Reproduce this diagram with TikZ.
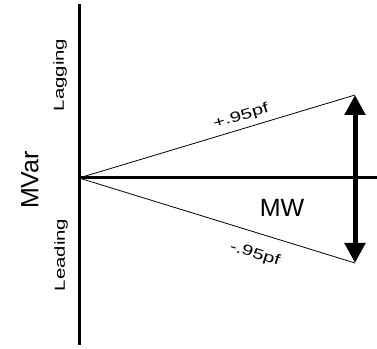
\documentclass[tikz,border=0pt]{standalone}
\usepackage{fontspec}
\setmainfont{Liberation Sans}
\newfontfamily\widefont[FakeStretch=1.4]{Liberation Sans}
\usetikzlibrary{arrows.meta}
\definecolor{PFInk}{HTML}{000000}
\tikzset{
  axisline/.style={PFInk,line width=3pt},
  pfline/.style={PFInk,line width=0.8pt},
  biglabel/.style={font=\fontsize{25}{25}\selectfont,inner sep=0pt},
  widelabel/.style={font=\widefont\fontsize{14.5}{14.5}\selectfont,inner sep=0pt},
  sidelabel/.style={widelabel,rotate=90}
}
\begin{document}
\begin{tikzpicture}[x=1pt,y=1pt]
\path[use as bounding box] (0,0) rectangle (377,348);
\coordinate (axtop) at (79,344);
\coordinate (axbot) at (79,3);
\coordinate (origin) at (79,170);
\coordinate (axend) at (377,170);
\coordinate (lagend) at (355,253);
\coordinate (leadend) at (355,85);
% axes
\draw[axisline] (axbot) -- (axtop);
\draw[axisline] (origin) -- (axend);
% power factor limits
\draw[pfline] (origin) -- node[widelabel,pos=0.6,above=5pt,sloped] (lagpf) {+.95pf} (lagend);
\draw[pfline] (origin) -- node[widelabel,pos=0.66,below=14pt,sloped] (leadpf) {-.95pf} (leadend);
% swing
\draw[PFInk,line width=5pt,{Triangle[width=20pt,length=20pt]}-{Triangle[width=20pt,length=20pt]}] (lagend) -- (leadend);
% labels
\node[biglabel,rotate=90] (mvar) at (30,168) {MVar};
\node[biglabel] (mw) at (282,140) {MW};
\node[sidelabel] (lagging) at (60,273) {Lagging};
\node[sidelabel] (leading) at (61,93) {Leading};
\end{tikzpicture}
\end{document}
